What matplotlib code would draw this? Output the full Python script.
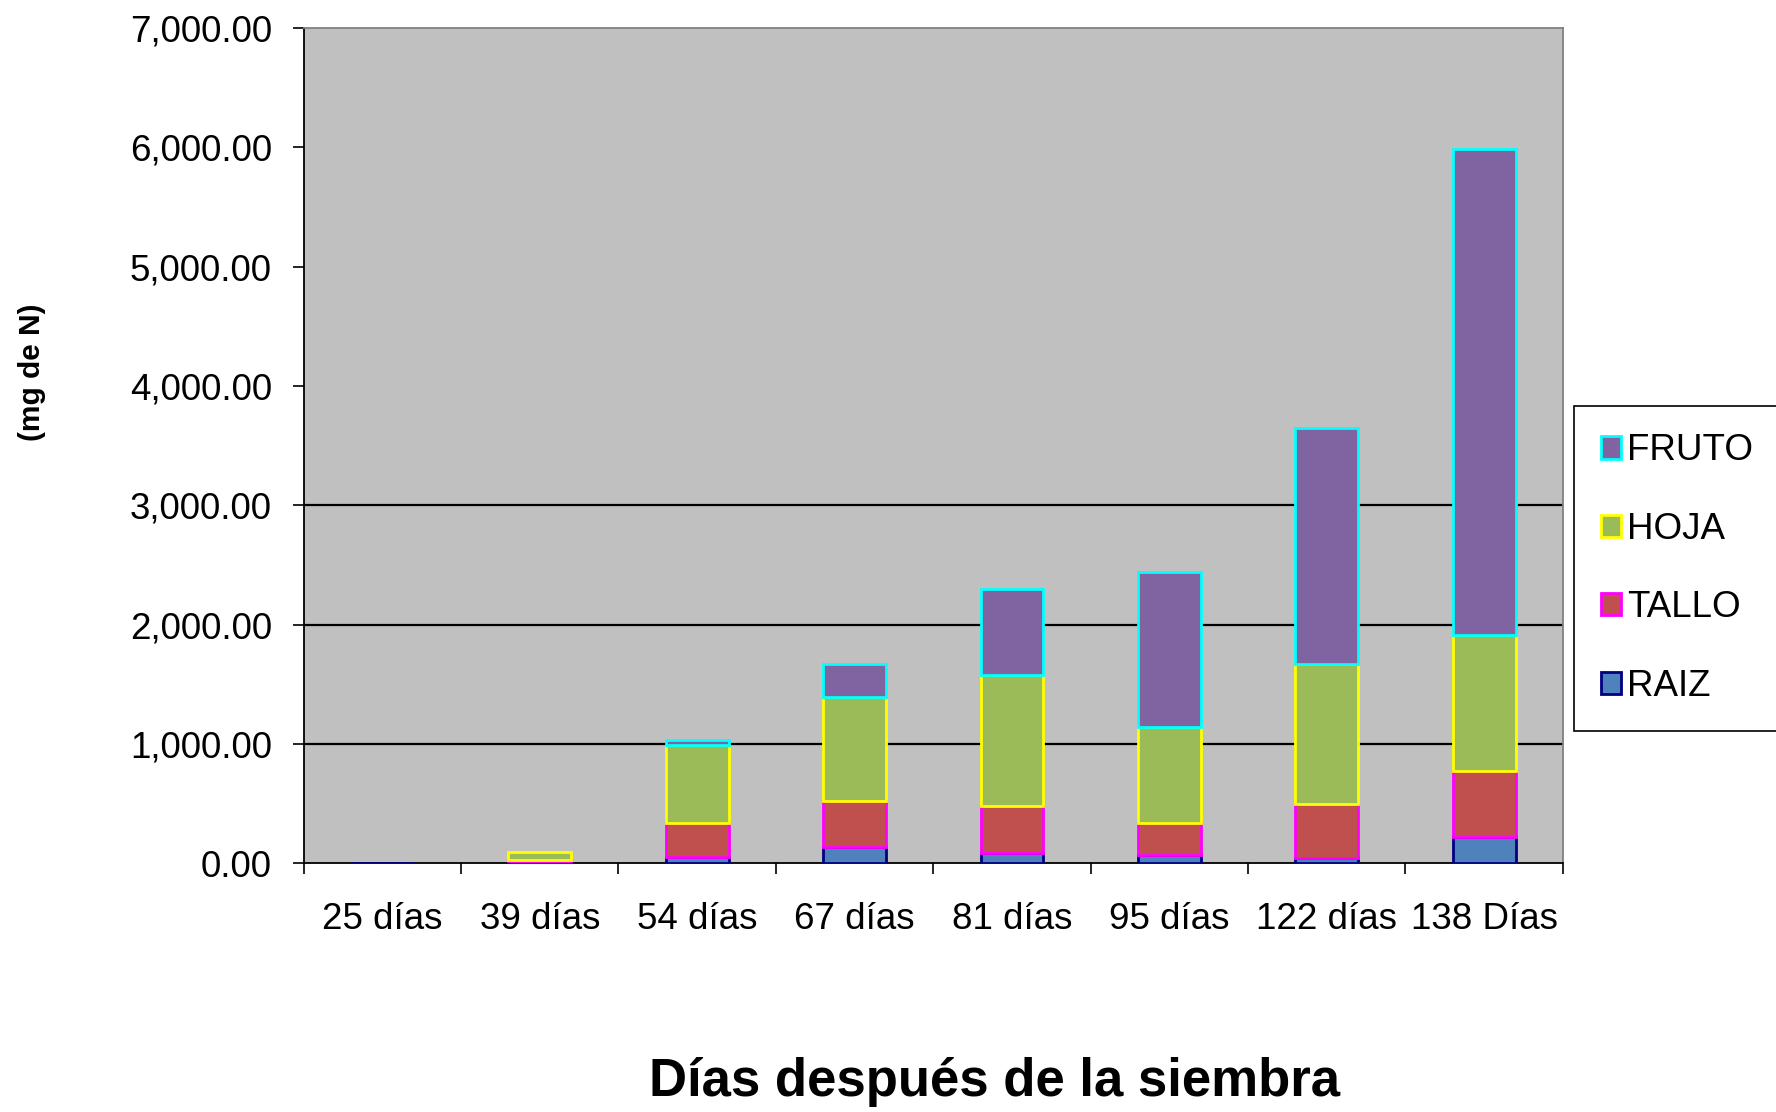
import numpy as np
import matplotlib
matplotlib.use("Agg")
import matplotlib.pyplot as plt
from matplotlib.patches import Patch
from matplotlib.ticker import FuncFormatter, FixedLocator

# ==================================================
CATEGORIAS = ["25 días", "39 días", "54 días", "67 días",
              "81 días", "95 días", "122 días", "138 Días"]
RAIZ  = [6, 8, 55, 134, 84, 70, 47, 218]
TALLO = [0, 20, 281, 389, 392, 266, 451, 552]
HOJA  = [0, 64, 658, 872, 1098, 807, 1168, 1140]
FRUTO = [0, 0, 36, 277, 723, 1302, 1980, 4077]
SERIES = ["RAIZ", "TALLO", "HOJA", "FRUTO"]
Y_TICKS = [0, 1000, 2000, 3000, 4000, 5000, 6000, 7000]
GRID_Y = [1000, 2000, 3000]
# ==================================================

RELLENO = {"RAIZ": "#4F81BD", "TALLO": "#C0504D", "HOJA": "#9BBB59", "FRUTO": "#8064A2"}
BORDE = {"RAIZ": "#000080", "TALLO": "#FF00FF", "HOJA": "#FFFF00", "FRUTO": "#00FFFF"}
FONDO = "#C0C0C0"

plt.rcParams["font.family"] = ["Liberation Sans", "DejaVu Sans"]

fig = plt.figure(figsize=(17.76, 11.12), dpi=100)
ax = fig.add_axes([0.171, 0.2237, 0.709, 0.751])
ax.set_facecolor(FONDO)

x = np.arange(len(CATEGORIAS))
datos = {"RAIZ": RAIZ, "TALLO": TALLO, "HOJA": HOJA, "FRUTO": FRUTO}
base = np.zeros(len(CATEGORIAS))
for s in SERIES:
    v = np.array(datos[s], dtype=float)
    lw = [0 if val == 0 else 2.0 for val in v]
    ax.bar(x, v, width=0.4, bottom=base, color=RELLENO[s],
           edgecolor=BORDE[s], linewidth=lw, zorder=3)
    base += v

for g in GRID_Y:
    ax.axhline(g, color="black", lw=1.6, zorder=1)

ax.set_xlim(-0.5, len(CATEGORIAS) - 0.5)
ax.set_ylim(0, 7000)
ax.yaxis.set_major_locator(FixedLocator(Y_TICKS))
ax.yaxis.set_major_formatter(FuncFormatter(lambda v, p: f"{v:,.2f}"))
ax.tick_params(axis="y", direction="out", length=8, width=1.2, pad=15, labelsize=26.5)

ax.set_xticks(x)
ax.set_xticklabels(CATEGORIAS)
ax.set_xticks(np.arange(-0.5, len(CATEGORIAS), 1.0), minor=True)
ax.tick_params(axis="x", which="major", length=0, pad=28, labelsize=26.5)
ax.tick_params(axis="x", which="minor", direction="out", length=8, width=1.2)

for lado in ["left", "bottom"]:
    ax.spines[lado].set_color("black"); ax.spines[lado].set_linewidth(1.3)
for lado in ["top", "right"]:
    ax.spines[lado].set_color("#808080"); ax.spines[lado].set_linewidth(1.3)

fig.text(0.560, 0.027, "Días después de la siembra", ha="center", va="center",
         fontsize=38, fontweight="bold")
fig.text(0.0178, 0.665, "(mg de N)", ha="center", va="center", rotation=90,
         fontsize=21.5, fontweight="bold")

orden = ["FRUTO", "HOJA", "TALLO", "RAIZ"]
parches = [Patch(facecolor=RELLENO[s], edgecolor=BORDE[s], linewidth=2.0) for s in orden]
leg = fig.legend(parches, orden, loc="upper left",
                 bbox_to_anchor=(0.886, 0.348, 0.16, 0.287), mode="expand",
                 fontsize=26.5, handlelength=0.55, handleheight=0.55, handletextpad=0.15,
                 labelspacing=1.18, borderpad=0.75, borderaxespad=0, fancybox=False,
                 frameon=True, edgecolor="black", framealpha=1)
leg.get_frame().set_linewidth(1.2)

fig.savefig("out.png", dpi=100)
